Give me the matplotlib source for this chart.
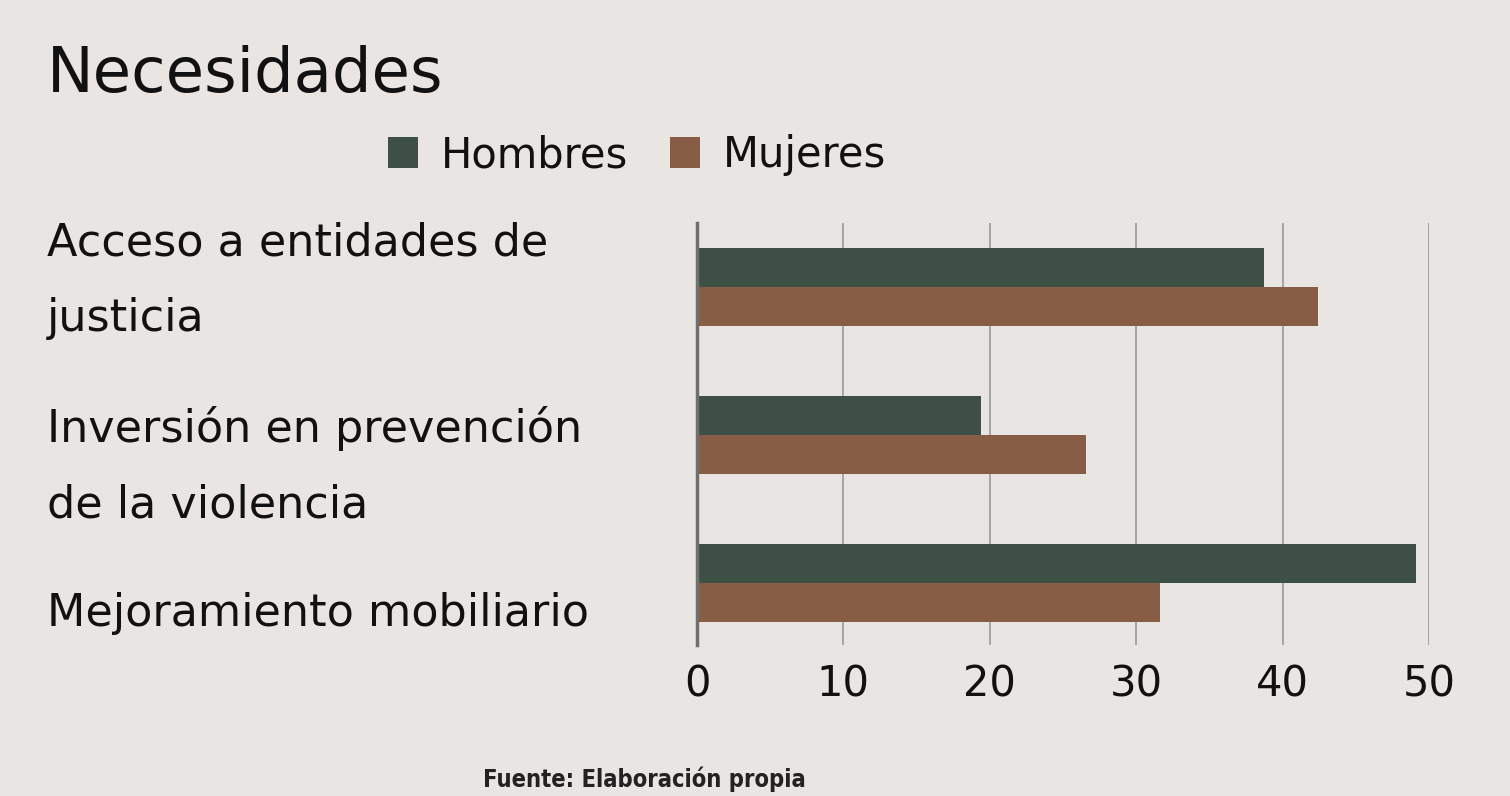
#!/usr/bin/env python3

import matplotlib
matplotlib.use("Agg")
import matplotlib.pyplot as plt
import matplotlib.transforms as mtransforms
import numpy as np

categories = [
    "Acceso a entidades de\njusticia",
    "Inversión en prevención\nde la violencia",
    "Mejoramiento mobiliario",
]
series_names = ["Hombres", "Mujeres"]
hombres = [38.7, 19.4, 49.1]
mujeres = [42.4, 26.6, 31.6]
x_ticks = [0, 10, 20, 30, 40, 50]

BG = "#e9e5e2"
GREEN = "#3e4f45"
BROWN = "#875d45"
FONT = ["DejaVu Sans"]
# vertical nudge of each category label (points), the slide's text boxes
# don't sit exactly on the bar groups
LABEL_NUDGE = [19, -8, -19]


def main():
    plt.rcParams["font.family"] = FONT
    fig = plt.figure(figsize=(15.1, 7.96), dpi=100, facecolor=BG)
    ax = fig.add_axes([0.4616, 0.1897, 0.9464 - 0.4616, 0.7198 - 0.1897])
    ax.set_facecolor(BG)

    y = np.arange(len(categories))
    h = 0.264
    ax.barh(y - h / 2, hombres, height=h, color=GREEN, label=series_names[0], zorder=3)
    ax.barh(y + h / 2, mujeres, height=h, color=BROWN, label=series_names[1], zorder=3)

    ax.set_xlim(0, 50)
    ax.set_ylim(len(categories) - 1 + 0.42, -0.43)
    ax.set_xticks(x_ticks)
    ax.set_xticklabels([str(t) for t in x_ticks], fontsize=30, color="#111111")
    ax.set_yticks(y)
    ax.set_yticklabels(categories, fontsize=32, color="#111111", ha="left",
                       linespacing=1.95)
    ax.tick_params(axis="y", length=0, pad=468)
    ax.tick_params(axis="x", length=0, pad=13)

    for lab, dy in zip(ax.get_yticklabels(), LABEL_NUDGE):
        shift = mtransforms.ScaledTranslation(0, dy / 72, fig.dpi_scale_trans)
        lab.set_transform(lab.get_transform() + shift)

    ax.grid(axis="x", color="#a3a6a9", linewidth=1.4, zorder=1)
    ax.grid(axis="y", visible=False)
    for side in ["top", "right", "bottom"]:
        ax.spines[side].set_visible(False)
    ax.spines["left"].set_color("#6f6f6f")
    ax.spines["left"].set_linewidth(2.5)
    ax.spines["left"].set_zorder(4)

    fig.text(0.031, 0.8844, "Necesidades", fontsize=45, color="#111111",
             ha="left", va="baseline")

    fig.legend(loc="center", bbox_to_anchor=(0.422, 0.805), ncol=2,
               frameon=False, fontsize=30, handlelength=0.72, handleheight=0.75,
               handletextpad=0.55, columnspacing=1.0, labelcolor="#111111")

    fig.text(0.32, 0.0113, "Fuente: Elaboración propia", fontsize=17,
             fontweight="bold", fontstretch="condensed", color="#222222",
             ha="left", va="baseline")

    fig.savefig("out.png", dpi=100, facecolor=BG)


if __name__ == "__main__":
    main()
